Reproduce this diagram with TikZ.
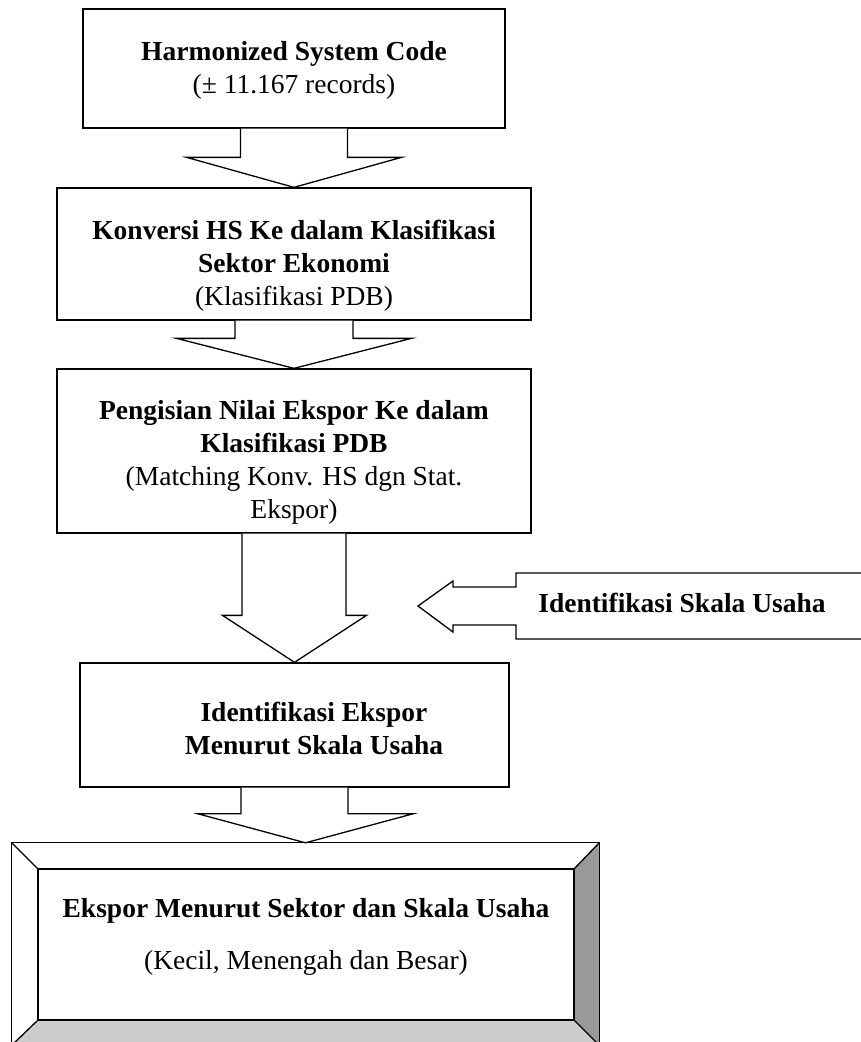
\documentclass[tikz,border=0pt]{standalone}
\usepackage{fontspec}
\setmainfont{Liberation Serif}
\usetikzlibrary{calc}
\tikzset{
  boxst/.style={draw, line width=1.3pt, fill=white, rectangle, inner sep=0pt},
  txt/.style={font=\fontsize{27.5}{33}\selectfont, align=center, inner sep=0pt},
  arrowline/.style={draw, line width=1.3pt, fill=white, line join=miter},
  bevelline/.style={draw, line width=1.3pt},
}
\newcommand{\blockdown}[5]{%
  \path[arrowline] ($(#1.south)+(-#3,0)$) |- ($(#2.north)+(-#4,-#5)$) -- (#2.north)
    -- ($(#2.north)+(#4,-#5)$) -| ($(#1.south)+(#3,0)$);}
\begin{document}
\begin{tikzpicture}[x=1pt,y=-1pt]
\useasboundingbox (0,0) rectangle (861,1042);
% boxes
\node[boxst, minimum width=422pt, minimum height=119pt] (b1) at (294,68.5) {};
\node[boxst, minimum width=474pt, minimum height=132pt] (b2) at (294,254) {};
\node[boxst, minimum width=474pt, minimum height=164pt] (b3) at (294,451) {};
\node[boxst, minimum width=429pt, minimum height=124pt] (b4) at (294.5,725) {};
\node[rectangle, inner sep=0pt, minimum width=587pt, minimum height=202pt] (b5) at (305.5,944) {};
% bevel box
\coordinate (i1) at (38,869);
\coordinate (i2) at (574,869);
\coordinate (i3) at (574,1020);
\coordinate (i4) at (38,1020);
\path[fill=white] (b5.north west) -- (b5.north east) -- (i2) -- (i1) -- cycle;
\path[fill=white] (b5.north west) -- (i1) -- (i4) -- (b5.south west) -- cycle;
\path[fill=black!40] (b5.north east) -- (b5.south east) -- (i3) -- (i2) -- cycle;
\path[fill=black!20] (b5.south west) -- (i4) -- (i3) -- (b5.south east) -- cycle;
\draw[bevelline] (b5.north west) rectangle (b5.south east);
\draw[bevelline] (i1) rectangle (i3);
\draw[bevelline] (b5.north west) -- (i1) (b5.north east) -- (i2)
  (b5.south east) -- (i3) (b5.south west) -- (i4);
% block arrows
\blockdown{b1}{b2}{53.5}{107.5}{30}
\blockdown{b2}{b3}{59}{117.5}{30}
\blockdown{b3}{b4}{52}{72}{47}
\blockdown{b4}{b5}{53.5}{107.5}{29}
% callout arrow
\coordinate (c1) at (870,573);
\coordinate (c2) at (870,639);
\path[arrowline] (c1) -- (516,573) -- (516,587) -- (453,587) -- (453,581) -- (418,606)
  -- (453,632) -- (453,625) -- (516,625) -- (516,639) -- (c2);
% texts
\node[txt] (t1) at (294,70) {\textbf{Harmonized System Code}\\(± 11.167 records)};
\node[txt] (t2) at (294,266) {\textbf{Konversi HS Ke dalam Klasifikasi}\\\textbf{Sektor Ekonomi}\\(Klasifikasi PDB)};
\node[txt] (t3) at (294,462) {\textbf{Pengisian Nilai Ekspor Ke dalam}\\\textbf{Klasifikasi PDB}\\(Matching Konv. HS dgn Stat.\\Ekspor)};
\node[txt] (t4) at (314,728) {\textbf{Identifikasi Ekspor}\\\textbf{Menurut Skala Usaha}};
\node[txt] (t5) at (306,937) {\textbf{Ekspor Menurut Sektor dan Skala Usaha}\\[19pt](Kecil, Menengah dan Besar)};
\node[txt] (t6) at (682,603) {\textbf{Identifikasi Skala Usaha}};
\end{tikzpicture}
\end{document}
